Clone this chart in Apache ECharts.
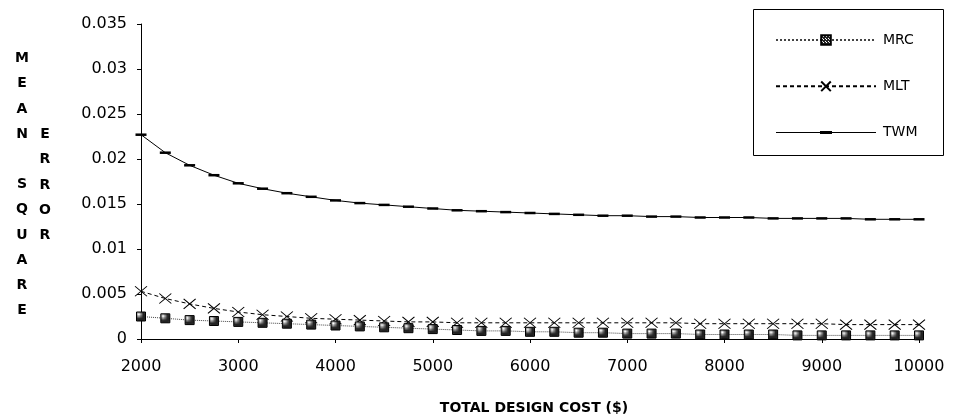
<!DOCTYPE html>
<html>
<head>
<meta charset="utf-8">
<script src="https://cdn.jsdelivr.net/npm/echarts@6/dist/echarts.min.js"></script>
<style>
  html, body { margin: 0; padding: 0; background: #fff; }
  #chart { width: 954px; height: 419px; }
</style>
</head>
<body>
<div id="chart"></div>
<script>
// design cost steps ($)
const costs = [2000, 2250, 2500, 2750, 3000, 3250, 3500, 3750, 4000, 4250, 4500,
  4750, 5000, 5250, 5500, 5750, 6000, 6250, 6500, 6750, 7000, 7250, 7500,
  7750, 8000, 8250, 8500, 8750, 9000, 9250, 9500, 9750, 10000]

// mean square error per method
const mrc = [0.0025, 0.0023, 0.0021, 0.0020, 0.0019, 0.0018, 0.0017, 0.0016, 0.0015, 0.0014, 0.0013,
  0.0012, 0.0011, 0.0010, 0.0009, 0.0009, 0.0008, 0.0008, 0.0007, 0.0007, 0.0006, 0.0006, 0.0006,
  0.0005, 0.0005, 0.0005, 0.0005, 0.0004, 0.0004, 0.0004, 0.0004, 0.0004, 0.0004]
const mlt = [0.0053, 0.0045, 0.0039, 0.0034, 0.0030, 0.0027, 0.0025, 0.0023, 0.0022, 0.0021, 0.0020,
  0.0019, 0.0019, 0.0018, 0.0018, 0.0018, 0.0018, 0.0018, 0.0018, 0.0018, 0.0018, 0.0018, 0.0018,
  0.0017, 0.0017, 0.0017, 0.0017, 0.0017, 0.0017, 0.0016, 0.0016, 0.0016, 0.0016]
const twm = [0.0227, 0.0207, 0.0193, 0.0182, 0.0173, 0.0167, 0.0162, 0.0158, 0.0154, 0.0151, 0.0149,
  0.0147, 0.0145, 0.0143, 0.0142, 0.0141, 0.0140, 0.0139, 0.0138, 0.0137, 0.0137, 0.0136, 0.0136,
  0.0135, 0.0135, 0.0135, 0.0134, 0.0134, 0.0134, 0.0134, 0.0133, 0.0133, 0.0133]

const seriesNames = ['MRC', 'MLT', 'TWM']

const pair = (ys) => costs.map((x, i) => [x, ys[i]])

// dotted fill for the MRC squares
const patternCanvas = document.createElement('canvas')
patternCanvas.width = 3
patternCanvas.height = 3
const pctx = patternCanvas.getContext('2d')
pctx.fillStyle = '#222'
pctx.fillRect(0, 0, 3, 3)
pctx.fillStyle = '#fff'
pctx.fillRect(1, 1, 1, 1)
pctx.fillRect(2, 2, 1, 1)

const font = "'DejaVu Sans', sans-serif"

const chart = echarts.init(document.getElementById('chart'))

const option = {
  animation: false,
  backgroundColor: '#fff',
  grid: { left: 141, right: 35, top: 24, bottom: 80 },
  xAxis: {
    type: 'value',
    min: 2000,
    max: 10000,
    interval: 1000,
    splitLine: { show: false },
    axisLine: { lineStyle: { color: '#000', width: 1 } },
    axisTick: { length: 4, lineStyle: { color: '#000' } },
    axisLabel: {
      color: '#000',
      fontFamily: font,
      fontSize: 16,
      margin: 20,
      formatter: (v) => String(v)
    }
  },
  yAxis: {
    type: 'value',
    min: 0,
    max: 0.035,
    interval: 0.005,
    splitLine: { show: false },
    axisLine: { show: true, lineStyle: { color: '#000', width: 1 } },
    axisTick: { show: true, length: 4, lineStyle: { color: '#000' } },
    axisLabel: { color: '#000', fontFamily: font, fontSize: 16, margin: 14 }
  },
  legend: {
    data: [
      'MRC',
      'MLT',
      // line with a short thick dash in the middle, like the plotted marker
      { name: 'TWM', icon: 'path://M0,5.5L100,5.5L100,6.5L0,6.5Z M44,4.5L56,4.5L56,7.5L44,7.5Z' }
    ],
    orient: 'vertical',
    left: 770,
    top: 28,
    itemWidth: 100,
    itemHeight: 12,
    itemGap: 32,
    textStyle: { color: '#000', fontFamily: font, fontSize: 14, padding: [0, 0, 0, 2] }
  },
  graphic: [
    {
      type: 'rect',
      left: 751,
      top: 7,
      shape: { width: 190, height: 146 },
      style: { fill: 'none', stroke: '#000', lineWidth: 1 }
    },
    {
      type: 'text',
      x: 22,
      y: 46,
      style: {
        text: 'M\nE\nA\nN\n\nS\nQ\nU\nA\nR\nE',
        font: 'bold 14px ' + font,
        lineHeight: 25.2,
        align: 'center',
        fill: '#000'
      }
    },
    {
      type: 'text',
      x: 45,
      y: 122,
      style: {
        text: 'E\nR\nR\nO\nR',
        font: 'bold 14px ' + font,
        lineHeight: 25.2,
        align: 'center',
        fill: '#000'
      }
    },
    {
      type: 'text',
      x: 534,
      y: 408,
      style: {
        text: 'TOTAL DESIGN COST ($)',
        font: 'bold 14px ' + font,
        align: 'center',
        verticalAlign: 'middle',
        fill: '#000'
      }
    }
  ],
  series: [
    {
      name: 'MRC',
      type: 'line',
      data: pair(mrc),
      symbol: 'rect',
      symbolSize: 9,
      lineStyle: { color: '#444', width: 1, type: 'dotted' },
      itemStyle: {
        color: { image: patternCanvas, repeat: 'repeat' },
        borderColor: '#000',
        borderWidth: 1
      },
      z: 3
    },
    {
      name: 'MLT',
      type: 'line',
      data: pair(mlt),
      symbol: 'path://M0,0L12,10M12,0L0,10',
      symbolSize: [12, 10],
      lineStyle: { color: '#000', width: 1, type: [4, 3] },
      itemStyle: { color: 'none', borderColor: '#000', borderWidth: 1 },
      z: 2
    },
    {
      name: 'TWM',
      type: 'line',
      data: pair(twm),
      symbol: 'rect',
      symbolSize: [11, 2.5],
      lineStyle: { color: '#000', width: 1 },
      itemStyle: { color: '#000' },
      z: 2
    }
  ]
}

chart.setOption(option)
</script>
</body>
</html>
